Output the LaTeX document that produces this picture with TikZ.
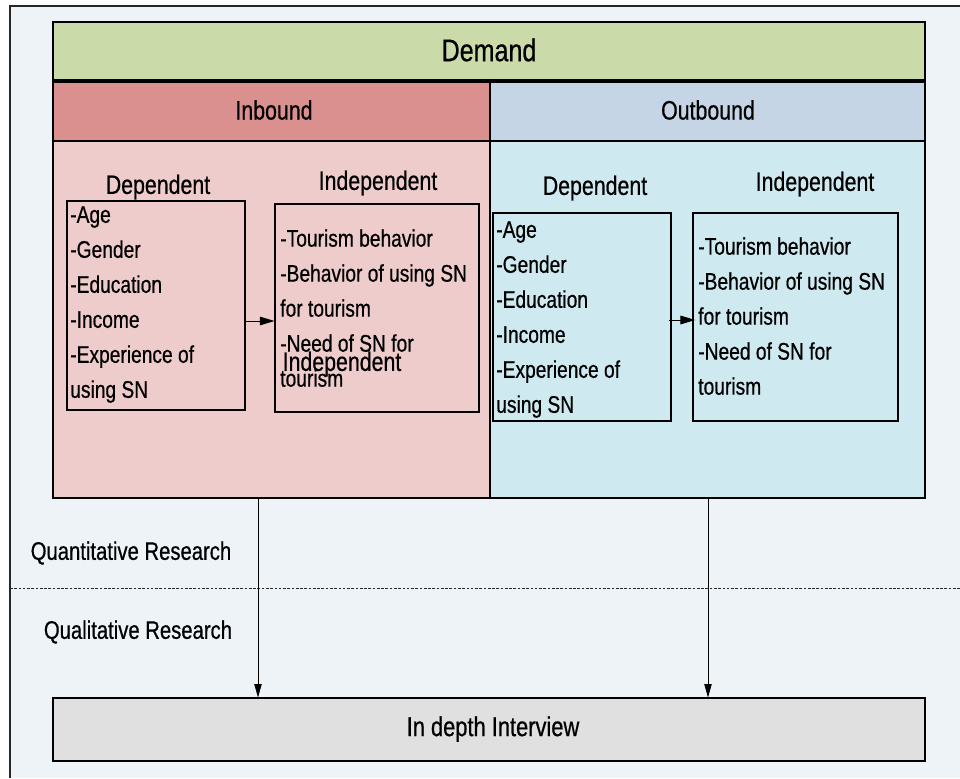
\documentclass[tikz,border=0pt]{standalone}
\usepackage{fontspec}
\setmainfont{Liberation Sans}[FakeStretch=0.8,FakeBold=0.6]
\usetikzlibrary{arrows.meta,fit}
\definecolor{bgc}{HTML}{EEF3F8}
\definecolor{demandc}{HTML}{CBDAA9}
\definecolor{inhead}{HTML}{D9908E}
\definecolor{outhead}{HTML}{C6D5E6}
\definecolor{inbody}{HTML}{EECCCB}
\definecolor{outbody}{HTML}{CEEAF0}
\definecolor{interc}{HTML}{E0E0E0}
\tikzset{
  blk/.style={draw=black, line width=0.8pt, inner sep=0pt},
  itembox/.style={draw=black, line width=0.8pt, inner sep=0pt},
  items/.style={anchor=north west, inner sep=0pt, align=left, font=\fontsize{18}{26.25}\selectfont},
  headtxt/.style={inner sep=0pt, font=\fontsize{20}{24}\selectfont},
  arr/.style={-{Triangle[length=11pt,width=6.5pt]}, line width=0.6pt, black},
  varr/.style={-{Triangle[length=10pt,width=5.5pt]}, line width=0.5pt, black},
}
\begin{document}
\begin{tikzpicture}[x=0.75pt,y=-0.75pt]
\useasboundingbox (0,0) rectangle (960,778);
% background frame
\fill[bgc] (10,6) rectangle (960,778);
\draw[black!85, line width=0.8pt] (10,778) -- (10,6) -- (960,6);
% main blocks
\node[blk, fill=demandc, fit={(53,22) (925,80)}] (demand) {};
\node[blk, fill=inhead, fit={(53,82) (490,141)}] (inhead) {};
\node[blk, fill=outhead, fit={(490,82) (925,141)}] (outhead) {};
\node[blk, fill=inbody, fit={(53,141) (490,498)}] (inbody) {};
\node[blk, fill=outbody, fit={(490,141) (925,498)}] (outbody) {};
\node[blk, fill=interc, fit={(53,698) (925,761)}] (inter) {};
% titles
\node[inner sep=0pt, font=\fontsize{23.5}{28}\selectfont] (tdemand) at (489,50) {Demand};
\node[headtxt] (tin) at (274,110) {Inbound};
\node[headtxt] (tout) at (708,110) {Outbound};
% inner boxes
\node[itembox, fit={(67,201) (245,410)}] (idep) {};
\node[itembox, fit={(275,204) (479,412)}] (iind) {};
\node[itembox, fit={(493,213) (671,421)}] (odep) {};
\node[itembox, fit={(693,213) (898,421)}] (oind) {};
\node[headtxt] (lidep) at (158,187) {Dependent};
\node[headtxt] (liind) at (378,183) {Independent};
\node[headtxt] (lodep) at (595,188) {Dependent};
\node[headtxt] (loind) at (815,184) {Independent};
% item texts
\node[items] (tidep) at (70,206) {-Age\\-Gender\\-Education\\-Income\\-Experience of\\using SN};
\node[items] (tiind) at (280,229) {-Tourism behavior\\-Behavior of using SN\\for tourism\\-Need of SN for\\tourism};
\node[headtxt] (liind2) at (342,364) {Independent};
\node[items] (todep) at (496,221) {-Age\\-Gender\\-Education\\-Income\\-Experience of\\using SN};
\node[items] (toind) at (698,237) {-Tourism behavior\\-Behavior of using SN\\for tourism\\-Need of SN for\\tourism};
% arrows between boxes
\coordinate (ya) at (0,321);
\coordinate (yb) at (0,320);
\draw[arr] (idep.east |- ya) -- (iind.west |- ya);
\draw[arr] ([xshift=-2pt]odep.east |- yb) -- ([xshift=2pt]oind.west |- yb);
% research separation
\coordinate (dl) at (10,588);
\coordinate (dr) at (960,588);
\draw[black!85, line width=0.6pt, dash pattern=on 2pt off 1.2pt] (dl) -- (dr);
\node[inner sep=0pt, font=\fontsize{19}{22}\selectfont] (quant) at (131,553) {Quantitative Research};
\node[inner sep=0pt, font=\fontsize{19}{22}\selectfont] (qual) at (138,632) {Qualitative Research};
\node[inner sep=0pt, font=\fontsize{20.5}{24}\selectfont] (tinter) at (493,729) {In depth Interview};
% vertical arrows
\coordinate (xa) at (258,0);
\coordinate (xb) at (708,0);
\draw[varr] (inbody.south -| xa) -- (inter.north -| xa);
\draw[varr] (outbody.south -| xb) -- (inter.north -| xb);
\end{tikzpicture}
\end{document}
